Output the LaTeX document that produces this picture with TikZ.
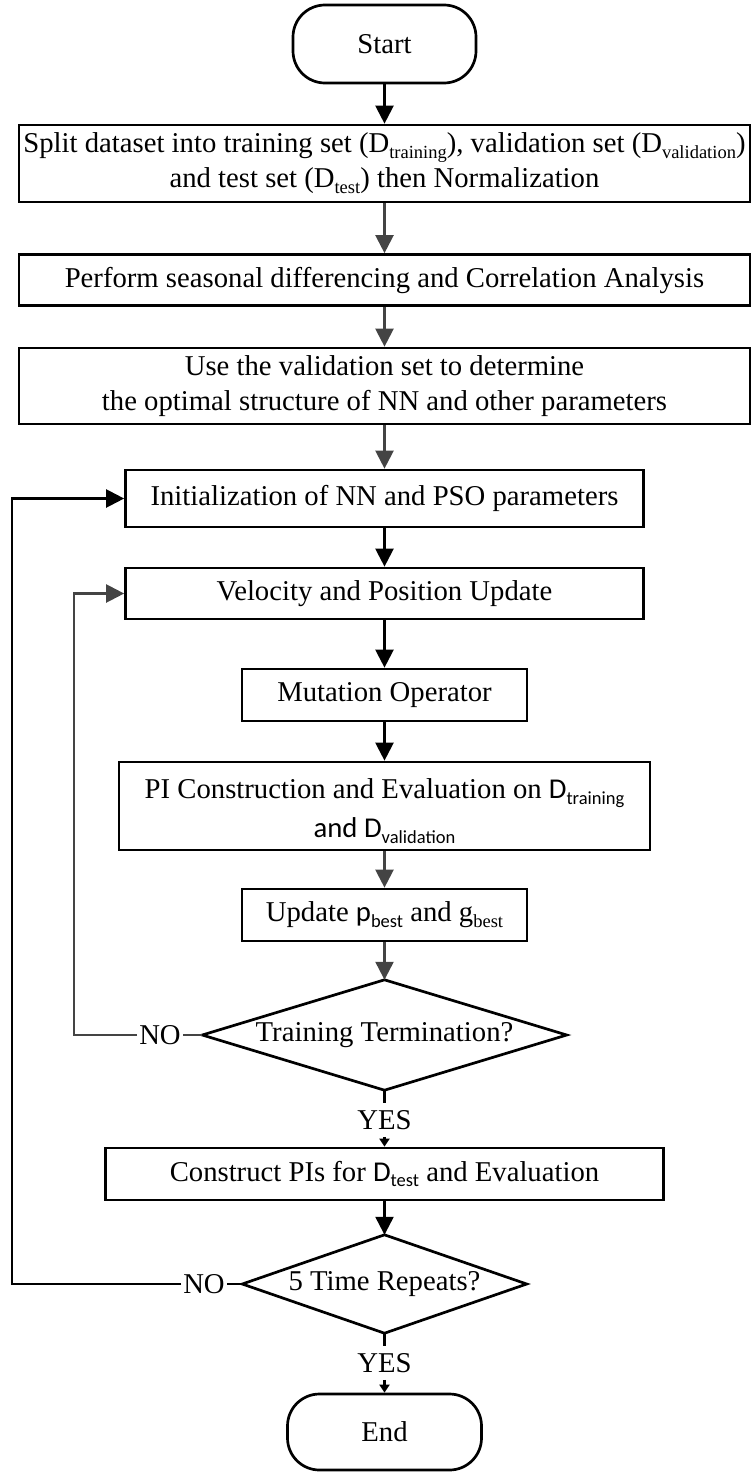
\documentclass[tikz,border=0pt]{standalone}
\usepackage{fontspec}
\setmainfont{Liberation Serif}
\newfontfamily\carl{Carlito}
\usetikzlibrary{arrows.meta}
\definecolor{darkg}{HTML}{444444}
\newcommand{\sub}[1]{\raisebox{-0.2em}{\fontsize{18.5}{18.5}\selectfont #1}}
\tikzset{
  txt/.style={font=\fontsize{28.7}{35}\selectfont},
  box/.style={txt, draw=black, line width=2.7pt, inner sep=0pt, align=center},
  term/.style={box, rounded corners=32pt},
  dia/.style={txt, inner sep=0pt},
  lbl/.style={txt, inner sep=2pt},
  ylbl/.style={txt, inner sep=7pt},
  conn/.style={line width=2.3pt, draw=black},
  gconn/.style={line width=2.3pt, draw=darkg},
  arr/.style={conn, -{Triangle[length=18pt,width=18pt]}},
  garr/.style={gconn, -{Triangle[length=18pt,width=18pt]}},
  sarr/.style={conn, -{Triangle[length=8pt,width=10pt]}},
}
\begin{document}
\begin{tikzpicture}[x=1pt,y=-1pt]
\useasboundingbox (0,0) rectangle (751,1472);
\node[term, minimum width=183pt, minimum height=78pt] (start) at (384.5,44) {Start};
\node[box, minimum width=731pt, minimum height=77pt] (b1) at (384.5,163.5) {Split dataset into training set (D\sub{training}), validation set (D\sub{validation})\\and test set (D\sub{test}) then Normalization};
\node[box, minimum width=731pt, minimum height=51pt] (b2) at (384.5,280) {Perform seasonal differencing and Correlation Analysis};
\node[box, minimum width=731pt, minimum height=76pt] (b3) at (384.5,386) {Use the validation set to determine\\the optimal structure of NN and other parameters};
\node[box, minimum width=518pt, minimum height=57pt] (b4) at (384.5,498.5) {Initialization of NN and PSO parameters};
\node[box, minimum width=518pt, minimum height=51pt] (b5) at (384.5,593.5) {Velocity and Position Update};
\node[box, minimum width=285pt, minimum height=52pt] (b6) at (384.5,695) {Mutation Operator};
\node[box, minimum width=531pt, minimum height=88pt] (b7) at (384.5,806) {\rule{0pt}{30pt}PI Construction and Evaluation on {\carl D\sub{training}}\\[4pt]{\carl and D\sub{validation}}};
\node[box, minimum width=285pt, minimum height=52pt] (b8) at (384.5,915) {Update {\carl p\sub{best}} and g\sub{best}};
\node[dia, minimum width=364pt, minimum height=110pt] (d1) at (384.5,1035) {Training Termination?};
\draw[line width=2.7pt] (d1.north) -- (d1.east) -- (d1.south) -- (d1.west) -- cycle;
\node[ylbl] (y1) at (384.5,1120) {YES};
\node[box, minimum width=558pt, minimum height=52pt] (b9) at (384.5,1174) {Construct PIs for {\carl D\sub{test}} and Evaluation};
\node[dia, minimum width=284pt, minimum height=98pt] (d2) at (384.5,1284) {5 Time Repeats?};
\draw[line width=2.7pt] (d2.north) -- (d2.east) -- (d2.south) -- (d2.west) -- cycle;
\node[ylbl] (y2) at (384.5,1363) {YES};
\node[term, minimum width=194pt, minimum height=76pt] (end) at (384.5,1432) {End};
\node[lbl] (n1) at (160,1035) {NO};
\node[lbl] (n2) at (204,1284) {NO};
\coordinate (c1) at (74,0);
\coordinate (c2) at (12,0);
\draw[arr] (start) -- (b1);
\draw[garr] (b1) -- (b2);
\draw[garr] (b2) -- (b3);
\draw[garr] (b3) -- (b4);
\draw[arr] (b4) -- (b5);
\draw[arr] (b5) -- (b6);
\draw[arr] (b6) -- (b7);
\draw[garr] (b7) -- (b8);
\draw[garr] (b8) -- (d1.north);
\draw[conn] (d1.south) -- (y1.north);
\draw[sarr] (y1.south) -- (b9.north);
\draw[arr] (b9) -- (d2.north);
\draw[conn] (d2.south) -- (y2.north);
\draw[sarr] (y2.south) -- (end.north);
\draw[gconn] (d1.west) -- (n1.east);
\draw[garr] (n1.west) -- (n1.west -| c1) -- (b5.west -| c1) -- (b5.west);
\draw[conn] (d2.west) -- (n2.east);
\draw[arr] (n2.west) -- (n2.west -| c2) -- (b4.west -| c2) -- (b4.west);
\end{tikzpicture}
\end{document}
